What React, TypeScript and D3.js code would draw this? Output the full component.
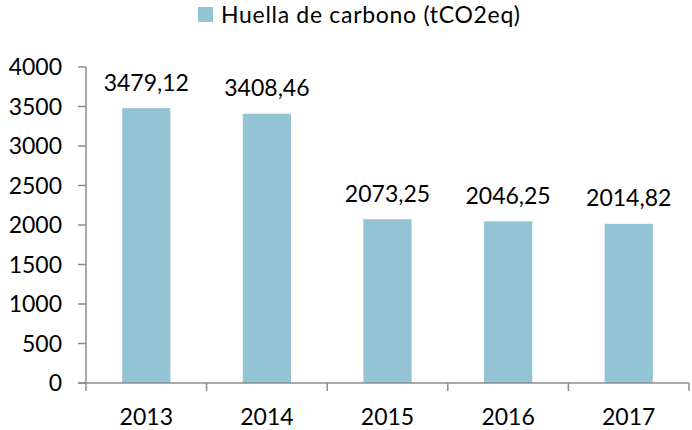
import React from 'react';
import * as d3 from 'd3';

const years = ['2013', '2014', '2015', '2016', '2017'];
const huella = [3479.12, 3408.46, 2073.25, 2046.25, 2014.82];
const yTicks = [0, 500, 1000, 1500, 2000, 2500, 3000, 3500, 4000];
const seriesName = 'Huella de carbono (tCO2eq)';

const width = 692;
const height = 430;
const left = 86;
const right = 689;
const top = 67;
const bottom = 383;
const barColor = '#93c4d6';
const axisColor = '#8c8c8c';
const font = 'Lato, Carlito, Calibri, sans-serif';

const fmt = (v: number) => v.toFixed(2).replace('.', ',');

const App: React.FC = () => {
  const x = d3.scaleBand<string>().domain(years).range([left, right]).paddingInner(0.6).paddingOuter(0.3);
  const xTick = d3.scaleBand<string>().domain(years).range([left, right]);
  const y = d3.scaleLinear().domain([0, 4000]).range([bottom, top]);

  return (
    <svg width={width} height={height} style={{ position: 'absolute', left: 0, top: 0, background: '#fff' }}>
      {/* legend */}
      <rect x={198} y={7} width={15} height={15} fill={barColor} />
      <text x={221} y={22.5} fontFamily={font} fontSize={23} fill="#000" textLength={299} lengthAdjust="spacing">{seriesName}</text>

      {/* bars */}
      {years.map((yr, i) => (
        <g key={yr}>
          <rect x={x(yr)} y={y(huella[i])} width={x.bandwidth()} height={bottom - y(huella[i])} fill={barColor} />
          <text x={(x(yr) ?? 0) + x.bandwidth() / 2} y={y(huella[i]) - 17.5} textAnchor="middle" fontFamily={font} fontSize={23} fill="#000">
            {fmt(huella[i])}
          </text>
        </g>
      ))}

      {/* y axis */}
      <line x1={left} x2={left} y1={top} y2={bottom} stroke={axisColor} strokeWidth={1.5} />
      {yTicks.map(t => (
        <g key={t}>
          <line x1={left - 8} x2={left} y1={y(t)} y2={y(t)} stroke={axisColor} strokeWidth={1.5} />
          <text x={62} y={y(t)} dy="0.36em" textAnchor="end" fontFamily={font} fontSize={23} fill="#000">{t}</text>
        </g>
      ))}

      {/* x axis */}
      <line x1={left - 8} x2={right} y1={bottom} y2={bottom} stroke={axisColor} strokeWidth={1.5} />
      {[...years.map(yr => xTick(yr) ?? 0), right].map((px, i) => (
        <line key={i} x1={px} x2={px} y1={bottom} y2={bottom + 8} stroke={axisColor} strokeWidth={1.5} />
      ))}
      {years.map(yr => (
        <text key={yr} x={(xTick(yr) ?? 0) + xTick.bandwidth() / 2} y={425} textAnchor="middle" fontFamily={font} fontSize={23} fill="#000">
          {yr}
        </text>
      ))}
    </svg>
  );
};

export default App;
